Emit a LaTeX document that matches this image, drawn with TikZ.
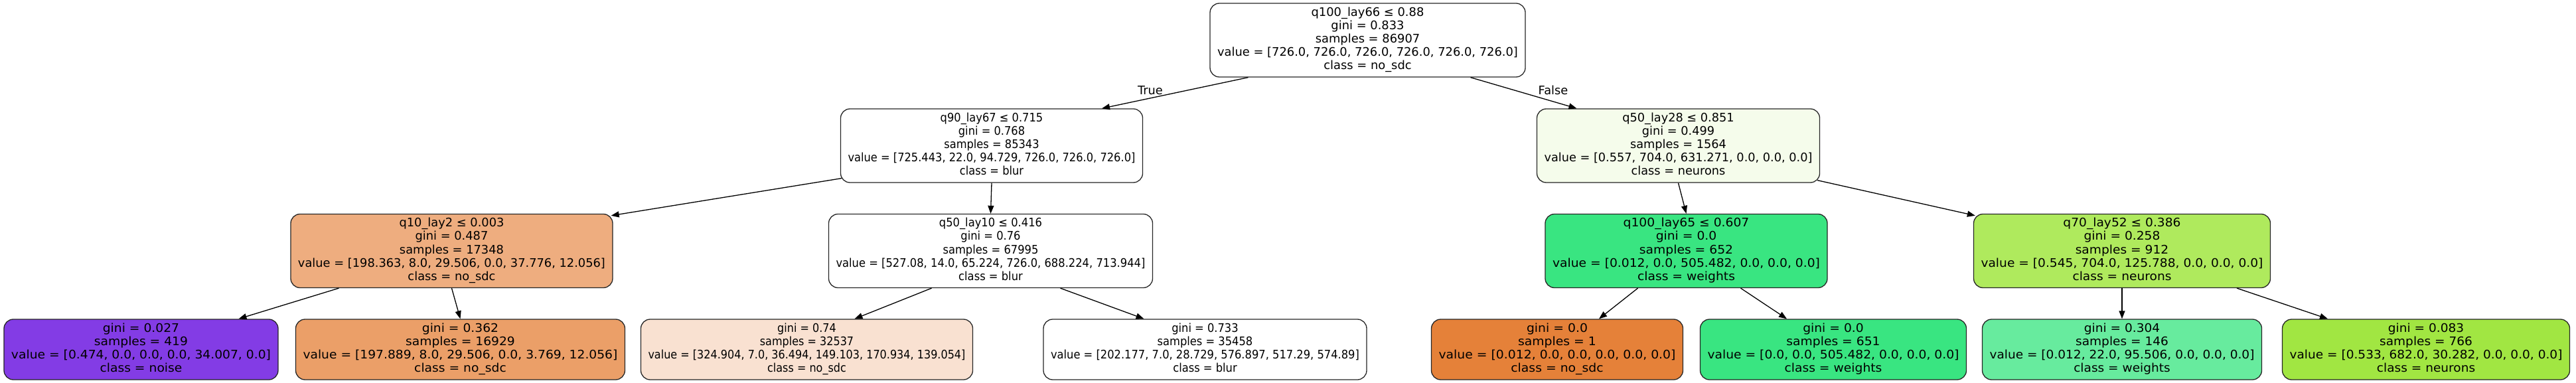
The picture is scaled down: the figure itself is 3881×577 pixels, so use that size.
\documentclass[tikz,border=0pt]{standalone}
\usepackage{fontspec}
\usepackage{graphicx}
\newfontfamily\treefont{DejaVu Sans}
\usetikzlibrary{arrows.meta}
\definecolor{nosdcA}{HTML}{EEAD7F}
\definecolor{nosdcB}{HTML}{EB9F68}
\definecolor{nosdcC}{HTML}{F9E1D1}
\definecolor{nosdcD}{HTML}{E58139}
\definecolor{neurA}{HTML}{F5FCEB}
\definecolor{neurB}{HTML}{AFEA5D}
\definecolor{neurC}{HTML}{A1E642}
\definecolor{weightA}{HTML}{39E581}
\definecolor{weightB}{HTML}{67EB9E}
\definecolor{noiseA}{HTML}{833CE5}
% node text, stretched to the width it has in the tree
\newcommand{\ntext}[2]{\resizebox{#1pt}{\height}{\begin{tabular}{@{}c@{}}#2\end{tabular}}}
\begin{document}
\begin{tikzpicture}[x=1pt, y=-1pt,
  tnode/.style={draw=black!85, line width=1.3pt, rounded corners=14pt,
    inner xsep=11pt, inner ysep=0pt, font=\treefont\fontsize{17.8}{20}\selectfont},
  split/.style={tnode, minimum height=111pt},
  leaf/.style={tnode, minimum height=91pt},
  edge/.style={-{Triangle[length=12pt,width=9pt]}, line width=1.3pt},
  lbl/.style={font=\treefont\fontsize{17.8}{20}\selectfont}]
\useasboundingbox (0,0) rectangle (3881,577);
% root
\node[split, fill=white] (n0) at (2060.5,60.5) {\ntext{453}
 {q100\_lay66 ≤ 0.88\\gini = 0.833\\samples = 86907\\value = [726.0, 726.0, 726.0, 726.0, 726.0, 726.0]\\class = no\_sdc}};
% level 1
\node[split, fill=white] (n1) at (1494,219.5) {\ntext{433}
 {q90\_lay67 ≤ 0.715\\gini = 0.768\\samples = 85343\\value = [725.443, 22.0, 94.729, 726.0, 726.0, 726.0]\\class = blur}};
\node[split, fill=neurA] (n8) at (2528.5,219.5) {\ntext{404}
 {q50\_lay28 ≤ 0.851\\gini = 0.499\\samples = 1564\\value = [0.557, 704.0, 631.271, 0.0, 0.0, 0.0]\\class = neurons}};
% level 2
\node[split, fill=nosdcA] (n2) at (680.5,378) {\ntext{463}
 {q10\_lay2 ≤ 0.003\\gini = 0.487\\samples = 17348\\value = [198.363, 8.0, 29.506, 0.0, 37.776, 12.056]\\class = no\_sdc}};
\node[split, fill=white] (n5) at (1492.5,378) {\ntext{466}
 {q50\_lay10 ≤ 0.416\\gini = 0.76\\samples = 67995\\value = [527.08, 14.0, 65.224, 726.0, 688.224, 713.944]\\class = blur}};
\node[split, fill=weightA] (n9) at (2540.5,378) {\ntext{403}
 {q100\_lay65 ≤ 0.607\\gini = 0.0\\samples = 652\\value = [0.012, 0.0, 505.482, 0.0, 0.0, 0.0]\\class = weights}};
\node[split, fill=neurB] (n12) at (3197,378) {\ntext{425}
 {q70\_lay52 ≤ 0.386\\gini = 0.258\\samples = 912\\value = [0.545, 704.0, 125.788, 0.0, 0.0, 0.0]\\class = neurons}};
% leaves
\node[leaf, fill=noiseA] (n3) at (212.5,526.5) {\ntext{391}
 {gini = 0.027\\samples = 419\\value = [0.474, 0.0, 0.0, 0.0, 34.007, 0.0]\\class = noise}};
\node[leaf, fill=nosdcB] (n4) at (693.5,526.5) {\ntext{474}
 {gini = 0.362\\samples = 16929\\value = [197.889, 8.0, 29.506, 0.0, 3.769, 12.056]\\class = no\_sdc}};
\node[leaf, fill=nosdcC] (n6) at (1215.5,526.5) {\ntext{478}
 {gini = 0.74\\samples = 32537\\value = [324.904, 7.0, 36.494, 149.103, 170.934, 139.054]\\class = no\_sdc}};
\node[leaf, fill=white] (n7) at (1815.5,526.5) {\ntext{465}
 {gini = 0.733\\samples = 35458\\value = [202.177, 7.0, 28.729, 576.897, 517.29, 574.89]\\class = blur}};
\node[leaf, fill=nosdcD] (n10) at (2346,526.5) {\ntext{357}
 {gini = 0.0\\samples = 1\\value = [0.012, 0.0, 0.0, 0.0, 0.0, 0.0]\\class = no\_sdc}};
\node[leaf, fill=weightA] (n11) at (2762,526.5) {\ntext{379}
 {gini = 0.0\\samples = 651\\value = [0.0, 0.0, 505.482, 0.0, 0.0, 0.0]\\class = weights}};
\node[leaf, fill=weightB] (n13) at (3197,526.5) {\ntext{399}
 {gini = 0.304\\samples = 146\\value = [0.012, 22.0, 95.506, 0.0, 0.0, 0.0]\\class = weights}};
\node[leaf, fill=neurC] (n14) at (3655,526.5) {\ntext{411}
 {gini = 0.083\\samples = 766\\value = [0.533, 682.0, 30.282, 0.0, 0.0, 0.0]\\class = neurons}};
% edges
\draw[edge] ([xshift=-180pt]n0.south) -- ([xshift=166pt]n1.north);
\draw[edge] ([xshift=155pt]n0.south) -- ([xshift=-153pt]n8.north);
\draw[edge] ([xshift=2pt,yshift=7pt]n1.south west) -- ([xshift=-3pt,yshift=-3pt]n2.north east);
\draw[edge] (n1.south) -- (n5.north);
\draw[edge] ([xshift=-170pt]n2.south) -- ([xshift=147pt]n3.north);
\draw[edge] (n2.south) -- (n4.north);
\draw[edge] ([xshift=-89pt]n5.south) -- ([xshift=72pt]n6.north);
\draw[edge] ([xshift=105pt]n5.south) -- ([xshift=-92pt]n7.north);
\draw[edge] (n8.south) -- (n9.north);
\draw[edge] ([xshift=-4pt,yshift=4pt]n8.south east) -- ([xshift=3pt,yshift=-3pt]n12.north west);
\draw[edge] ([xshift=-73pt]n9.south) -- ([xshift=63pt]n10.north);
\draw[edge] ([xshift=82pt]n9.south) -- ([xshift=-70pt]n11.north);
\draw[edge] (n12.south) -- (n13.north);
\draw[edge] ([xshift=173pt]n12.south) -- ([xshift=-148pt]n14.north);
\node[lbl] (t) at (1733,136) {True};
\node[lbl] (f) at (2340,136) {False};
\end{tikzpicture}
\end{document}
